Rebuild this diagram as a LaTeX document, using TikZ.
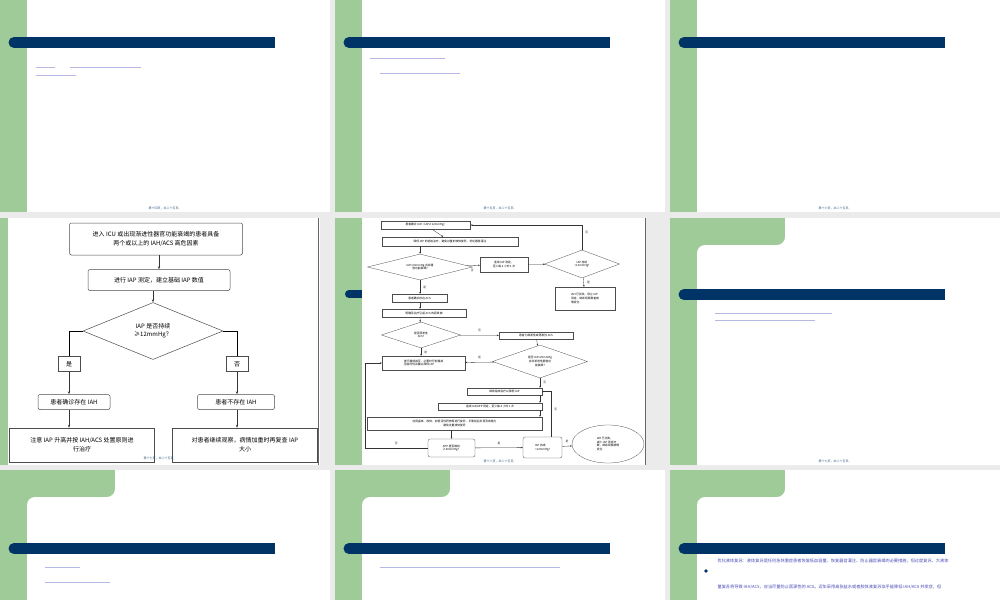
\documentclass[tikz,border=0pt]{standalone}
\usepackage{fontspec}
\setmainfont{Liberation Serif}
\newfontfamily\cjk{Noto Sans CJK SC}
\usetikzlibrary{shapes.geometric,arrows.meta}
\definecolor{navy}{HTML}{003366}
\definecolor{leaf}{HTML}{9FCB98}
\definecolor{paper}{HTML}{EBEBEB}
\definecolor{ink}{HTML}{4A4AB8}
\begin{document}
\begin{tikzpicture}[x=1pt,y=-1pt,
  box/.style={draw=black!70,line width=.5pt,rounded corners=2pt,align=center,inner sep=1pt,font=\cjk\fontsize{6}{9}\selectfont},
  dia/.style={draw=black!70,line width=.5pt,diamond,inner sep=0pt,align=center,font=\cjk\fontsize{6}{8}\selectfont},
  sbox/.style={draw=black!70,line width=.3pt,align=center,inner sep=.5pt,font=\cjk\fontsize{2.8}{3.6}\selectfont},
  sdia/.style={draw=black!70,line width=.3pt,diamond,inner sep=0pt,align=center,font=\cjk\fontsize{2.8}{3.6}\selectfont},
  lab/.style={font=\cjk\fontsize{2.8}{3}\selectfont},
  foot/.style={font=\cjk\fontsize{3}{3}\selectfont,text=navy!80},
  every path/.style={line width=.5pt},
  arr/.style={-{Stealth[length=3pt]},black!80},
  sarr/.style={-{Stealth[length=2pt]},black!80,line width=.3pt}]
\useasboundingbox (0,0) rectangle (1000,600);
\fill[paper] (0,0) rectangle (1000,600);
% top row
\foreach \x in {0,335,670}{
  \fill[white] (\x,0) rectangle (\x+330,212);
  \fill[leaf] (\x,0) rectangle (\x+27,212);
  \fill[navy] (\x+14,37) rectangle (\x+275,48);
  \fill[navy] (\x+14,42.5) circle (5.5);
}
% middle-right and bottom row slides
\foreach \x/\yt/\yb in {670/218/465,0/470/600,335/470/600,670/470/600}{
  \fill[leaf] (\x,\yt) rectangle (\x+330,\yb);
  \fill[white] (\x+27,\yb) {[rounded corners=8pt] -- (\x+27,\yt+27) -- (\x+115,\yt+27)} -- (\x+115,\yt) -- (\x+330,\yt) -- (\x+330,\yb) -- cycle;
}
\foreach \x in {670}{
  \fill[navy] (\x+14,289) rectangle (\x+275,300);
  \fill[navy] (\x+14,294.5) circle (5.5);
}
\foreach \x in {0,335,670}{
  \fill[navy] (\x+14,543) rectangle (\x+275,554);
  \fill[navy] (\x+14,548.5) circle (5.5);
}
% faint text lines
\draw[ink!40,line width=.6pt] (36,67) -- (55,67) (70,67) -- (141,67) (36,75) -- (76,75);
\draw[ink!40,line width=.6pt] (370,58) -- (445,58) (380,73) -- (460,73);
\draw[ink!40,line width=.6pt] (715,313) -- (830,313) (805,313) -- (832,313) (715,320) -- (815,320);
\draw[ink!40,line width=.6pt] (380,567) -- (560,567) (45,567) -- (80,567) (45,582) -- (110,582);
% slide 9 text
\node[anchor=west,font=\cjk\fontsize{4.2}{5}\selectfont,text=ink] (t1) at (714,561) {优化液体复苏：液体复苏是任何急休重症患者恢复低血容量、恢复器官灌注、防止器官衰竭的必要措施，但过度复苏、大液体};
\node[anchor=west,font=\cjk\fontsize{4.2}{5}\selectfont,text=ink] (t2) at (714,587) {量复苏将导致 IAH/ACS，应当尽量防止医源性的 ACS。近年采用高张盐水或者胶体液复苏似乎能降低 IAH/ACS 并发症，但};
\fill[navy] (706,571) circle (1.8);
% footers
\node[foot] (f14) at (165,208) {第十四页，共二十五页。};
\node[foot] (f15) at (500,208) {第十五页，共二十五页。};
\node[foot] (f16) at (835,208) {第十六页，共二十五页。};
\node[foot] (f19) at (835,461) {第十九页，共二十五页。};
% slide with first flowchart
\fill[leaf] (0,218) rectangle (8,465);
\fill[white] (8,218) rectangle (320,465);
\draw[black!60] (318,218) -- (318,465);
\node[box,minimum width=173pt,minimum height=32pt] (a1) at (156,239) {进入 ICU 或出现渐进性器官功能衰竭的患者具备\\两个或以上的 IAH/ACS 高危因素};
\node[box,minimum width=142pt,minimum height=21pt] (a2) at (159,280) {进行 IAP 测定，建立基础 IAP 数值};
\node[dia,minimum width=140pt,minimum height=57pt,aspect=2.4] (a3) at (153,331) {IAP 是否持续\\≥12mmHg？};
\node[box,rounded corners=0pt,minimum width=22pt,minimum height=15pt] (yes) at (69,364) {是};
\node[box,rounded corners=0pt,minimum width=22pt,minimum height=15pt] (no) at (237,364) {否};
\node[box,minimum width=72pt,minimum height=15pt] (a4) at (74,402) {患者确诊存在 IAH};
\node[box,rounded corners=0pt,minimum width=145pt,minimum height=34pt] (a5) at (82,445) {注意 IAP 升高并按 IAH/ACS 处置原则进\\行治疗};
\node[box,minimum width=77pt,minimum height=15pt] (a6) at (236,402) {患者不存在 IAH};
\node[box,rounded corners=0pt,minimum width=145pt,minimum height=34pt] (a7) at (245,445) {对患者继续观察，病情加重时再复查 IAP\\大小};
\draw[arr] (a1.south -| a2) -- (a2);
\draw[arr] (a2.south -| a3) -- (a3);
\draw (a3.west) -| (yes.north);
\draw (a3.east) -| (no.north);
\draw[arr] (yes.south) -- (yes.south |- a4.north);
\draw[arr] (no.south) -- (no.south |- a6.north);
\draw[arr] (yes.south |- a4.south) -- (yes.south |- a5.north);
\draw[arr] (no.south |- a6.south) -- (no.south |- a7.north);
\node[foot] (f17) at (160,458) {第十七页，共二十五页。};
% slide with second flowchart
\fill[leaf] (335,218) rectangle (362,465);
\fill[white] (362,218) rectangle (645,465);
\draw[black!60] (645,218) -- (645,465);
\fill[navy] (349,290) rectangle (362,298);
\fill[navy] (349,294) circle (4);
\node[sbox,minimum width=89pt,minimum height=8pt] (b1) at (426,225) {患者确诊 IAH（IAP≥12mmHg）};
\node[sbox,minimum width=136pt,minimum height=9pt] (b2) at (450,241.5) {降低 IAP 的初始治疗，避免过量的液体复苏，优化器官灌注};
\node[sdia,minimum width=105pt,minimum height=26pt,aspect=4] (d1) at (420,267) {IAP>20mmHg 合并器\\官功能衰竭?};
\node[sbox,minimum width=48pt,minimum height=15pt] (b3) at (504,264.5) {连续 IAP 测定，\\至少每 4 小时 1 次};
\node[sdia,minimum width=75pt,minimum height=28pt,aspect=2.7] (d2) at (582,264) {IAP 持续\\<12mmHg?};
\node[sbox,minimum width=60pt,minimum height=23pt,align=left] (b4) at (585,298.5) {IAH 已消失，停止 IAP\\测定，继续观察患者病\\情变化};
\node[sbox,minimum width=55pt,minimum height=8pt] (b5) at (419.5,298) {患者确诊存在 ACS};
\node[sbox,minimum width=84pt,minimum height=8pt] (b6) at (424,313) {明确及治疗引起 ACS 的原发病};
\node[sdia,minimum width=79pt,minimum height=26pt,aspect=3] (d3) at (421,335) {是否原发性\\ACS?};
\node[sbox,minimum width=74pt,minimum height=7pt] (b7) at (536,335.5) {患者为继发性或再发性 ACS};
\node[sbox,minimum width=83pt,minimum height=14pt,align=left] (b8) at (423.5,363) {进行腹部减压，必要时行剖腹减\\压临时性关腹以降低 IAP};
\node[sdia,minimum width=95pt,minimum height=33pt,aspect=2.9] (d4) at (540,361.5) {是否 IAP>25mmHg\\合并渐进性器官功\\能衰竭?};
\node[sbox,minimum width=75pt,minimum height=7pt] (b9) at (504.5,391.5) {继续临床治疗以降低 IAP};
\node[sbox,minimum width=104pt,minimum height=7pt] (b10) at (490,406.5) {连续 IAP/APP 测定，至少每 4 小时 1 次};
\node[sbox,minimum width=175pt,minimum height=13pt] (b11) at (454.5,423.5) {应用晶体、胶体、血管活性药物等进行复苏，平衡前后负荷及收缩力\\避免过量液体复苏};
\node[sbox,rounded corners=2pt,minimum width=47pt,minimum height=18pt,align=left] (d5) at (451.5,448) {APP 是否维持\\≥60mmHg?};
\node[sbox,rounded corners=2pt,minimum width=39pt,minimum height=21pt,align=left] (d6) at (542.5,447.5) {IAP 持续\\<12mmHg?};
\node[sbox,ellipse,minimum width=72pt,minimum height=38pt,align=left] (e1) at (608,444) {IAH 已消失，\\减少 IAP 测定次\\数，继续观察病情\\变化};
\draw[sarr] (b1) -- (b2);
\draw[sarr] (b2.south -| d1) -- (d1);
\draw[sarr] (d1) -- node[lab,below,pos=.4] {否} (b3);
\draw[sarr] (b3) -- (d2);
\draw[sarr] (d2) -- node[lab,right] {是} (b4);
\draw[sarr,line width=.3pt] (d2.north) |- node[lab,pos=.35,right] {否} (b1.east);
\draw[sarr] (d1) -- node[lab,right] {是} (b5.north -| d1);
\draw[sarr] (b5.south -| d1) -- (b6.north -| d1);
\draw[sarr] (b6.south -| d1) -- (d3);
\draw[sarr] (d3) -- node[lab,above] {否} (b7);
\draw[sarr] (d3) -- node[lab,right] {是} (b8.north -| d3);
\draw[sarr] (b7) -- (d4);
\draw[sarr] (d4) -- node[lab,above] {是} (b8);
\draw[sarr] (d4.south) -- node[lab,right] {否} (b9.north -| d4.south);
\draw[sarr] (b9.south -| d4.south) -- (b10.north -| d4.south);
\draw[sarr] (b10.south -| d4.south) -- (b11.north -| d4.south);
\draw[sarr] (b11.south -| d5) -- (d5);
\draw[sarr] (d5.west) -- node[lab,above] {否} ++(-63,0) |- (b8.west);
\draw[sarr] (d5) -- node[lab,above] {是} (d6);
\draw[sarr] (d6.north -| 551,0) |- node[lab,pos=.3,right] {否} (b9.east);
\draw[sarr] (d6) -- node[lab,above] {是} (e1);
\node[foot] (f18) at (500,461) {第十八页，共二十五页。};
\end{tikzpicture}
\end{document}
